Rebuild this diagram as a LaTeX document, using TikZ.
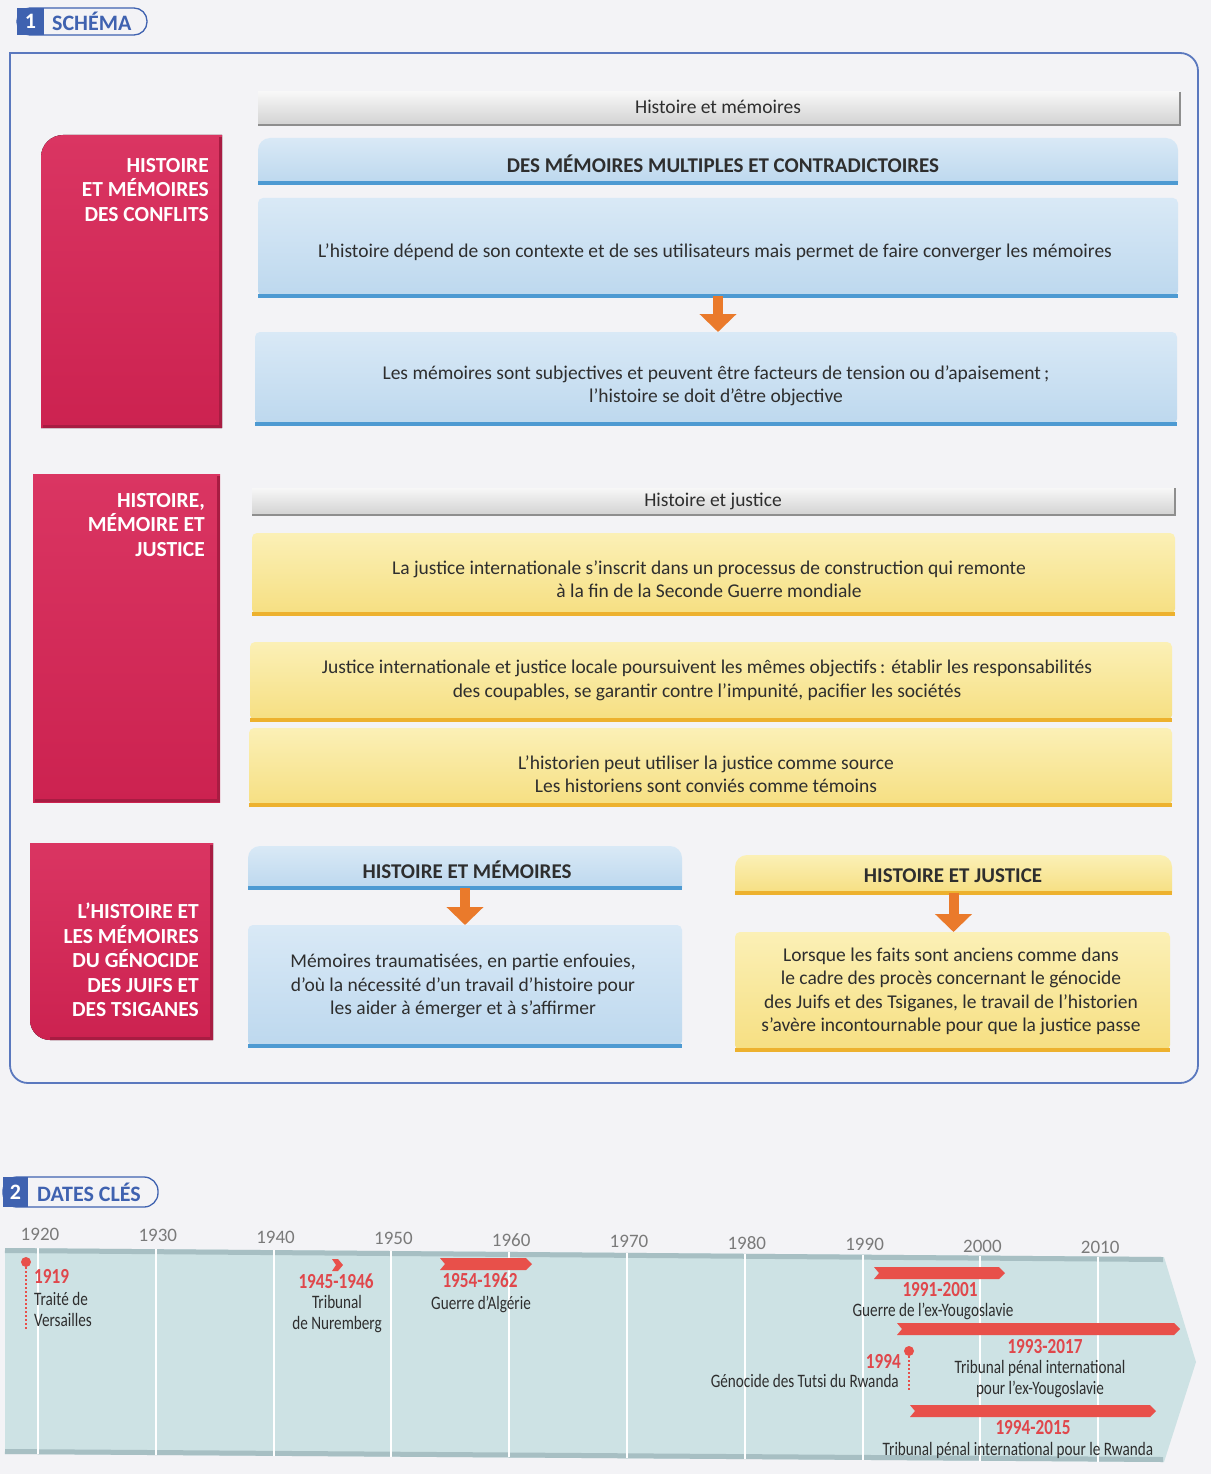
\documentclass[tikz,border=0pt]{standalone}
\usepackage{fontspec}
\setmainfont{Carlito}
\newfontfamily\condf{Carlito}[FakeStretch=0.8]
\usetikzlibrary{shadings,arrows.meta}
\definecolor{bgc}{HTML}{F3F3F6}
\definecolor{framec}{HTML}{5A78BE}
\definecolor{tabc}{HTML}{3F62B0}
\definecolor{redt}{HTML}{DA3562}
\definecolor{redb}{HTML}{CC2250}
\definecolor{redbd}{HTML}{A81C42}
\definecolor{bluet}{HTML}{D9E9F6}
\definecolor{blueb}{HTML}{BDD8EE}
\definecolor{blueedge}{HTML}{4D9AD2}
\definecolor{yelt}{HTML}{FBF0B6}
\definecolor{yelb}{HTML}{F6DF82}
\definecolor{yeledge}{HTML}{EDB12E}
\definecolor{greyt}{HTML}{F7F7F7}
\definecolor{greyb}{HTML}{D2D2D2}
\definecolor{greyedge}{HTML}{8E8E8E}
\definecolor{arrowc}{HTML}{EA7A2B}
\definecolor{txtc}{HTML}{2E2E2E}
\definecolor{redtxt}{HTML}{E0474B}
\definecolor{ribbonc}{HTML}{E8504A}
\definecolor{bandc}{HTML}{CDE2E4}
\definecolor{bandedge}{HTML}{A7BFC3}
\definecolor{yearc}{HTML}{7A7A7A}
\newcommand\hdrshape[3]{\path[#2] (#1.south west) [rounded corners=#3] -- (#1.north west) -- (#1.north east) [sharp corners] -- (#1.south east) -- cycle;}
\newcommand\ribbon[3]{\fill[ribbonc] (#1,#3) -- (#2,#3) -- ({#2+6},{#3+6}) -- (#2,{#3+12}) -- (#1,{#3+12}) -- ({#1+5},{#3+6}) -- cycle;}
\begin{document}
\begin{tikzpicture}[x=1pt,y=-1pt,
  boxbase/.style={inner sep=0pt, outer sep=0pt},
  bluebox/.style={boxbase, rounded corners=5pt, top color=bluet, bottom color=blueb},
  yelbox/.style={boxbase, rounded corners=5pt, top color=yelt, bottom color=yelb},
  greybar/.style={boxbase, top color=greyt, bottom color=greyb},
  txt/.style={font=\fontsize{19.5}{23.5}\selectfont, text=txtc, align=center, inner sep=0pt},
  hdtxt/.style={font=\bfseries\fontsize{21}{23}\selectfont, text=txtc, inner sep=0pt},
  redlabel/.style={font=\bfseries\fontsize{21.5}{24.5}\selectfont, text=white, align=right, anchor=north east, inner sep=0pt},
  orarrow/.style={draw=arrowc, line width=10pt, -{Triangle[width=36pt,length=18pt]}},
  yearlbl/.style={font=\fontsize{19}{19}\selectfont, text=yearc, inner sep=0pt},
  evred/.style={font=\condf\bfseries\fontsize{21.5}{21.5}\selectfont, text=redtxt, inner sep=0pt},
  evtxt/.style={font=\condf\fontsize{19}{21}\selectfont, text=txtc, inner sep=0pt, align=center},
  dot/.style={circle, fill=ribbonc, inner sep=0pt, minimum size=10pt},
  dotline/.style={draw=ribbonc, line width=2pt, dash pattern=on 2pt off 2pt},
  tabtxt/.style={font=\bfseries\fontsize{22}{22}\selectfont, inner sep=0pt}
]
\useasboundingbox (0,0) rectangle (1211,1474);
\fill[bgc] (0,0) rectangle (1211,1474);

% ---------- tab 1
\draw[tabc, line width=1.3pt, rounded corners=13pt] (17,8) rectangle (147,35);
\fill[tabc] (17,8) rectangle (44,35);
\node[tabtxt, text=white] (n1) at (30.5,21.5) {1};
\node[tabtxt, text=tabc, anchor=west] (schema) at (52,21.5) {SCHÉMA};

% ---------- frame (square top-left corner)
\draw[framec, line width=1.8pt] (9.1,53) [rounded corners=18pt] -- (1198,53) -- (1198,1083) -- (10,1083) -- (10,52.1);

% ---------- red boxes
\fill[top color=redt, bottom color=redb] (222,428) -- (41,428) [rounded corners=22pt] -- (41,135) [sharp corners] -- (222,135) -- cycle;
\draw[redbd, line width=3pt] (220.5,137) -- (220.5,426.5) -- (43,426.5);
\node[redlabel] (r1t) at (209,158) {HISTOIRE\\ET MÉMOIRES\\DES CONFLITS};

\fill[top color=redt, bottom color=redb] (33,474) rectangle (220,802);
\draw[redbd, line width=3pt] (218.5,476) -- (218.5,800.5) -- (35,800.5);
\node[redlabel] (r2t) at (205,493) {HISTOIRE,\\MÉMOIRE ET\\JUSTICE};

\fill[top color=redt, bottom color=redb] (30,843) [rounded corners=20pt] -- (30,1040) [sharp corners] -- (213,1040) -- (213,843) -- cycle;
\draw[redbd, line width=3pt] (211.5,845) -- (211.5,1038.5) -- (50,1038.5);
\node[redlabel] (r3t) at (199,903) {L’HISTOIRE ET\\LES MÉMOIRES\\DU GÉNOCIDE\\DES JUIFS ET\\DES TSIGANES};

% ---------- Histoire et mémoires
\node[greybar, minimum width=922pt, minimum height=33pt] (g1) at (719,108.5) {};
\draw[greyedge, line width=2.5pt] (g1.north east) -- (g1.south east) -- (g1.south west);
\node[txt] (g1t) at (718,107) {Histoire et mémoires};

\node[boxbase, minimum width=920pt, minimum height=45pt] (h1) at (718,160.5) {};
\hdrshape{h1}{top color=bluet, bottom color=blueb}{12pt}
\draw[blueedge, line width=4pt] (h1.south west) -- (h1.south east);
\node[hdtxt] (h1t) at (723,164) {DES MÉMOIRES MULTIPLES ET CONTRADICTOIRES};

\node[bluebox, minimum width=920pt, minimum height=98pt] (b1) at (718,247) {};
\draw[blueedge, line width=4pt] (b1.south west) -- (b1.south east);
\node[txt] (b1t) at (715,252) {L’histoire dépend de son contexte et de ses utilisateurs mais permet de faire converger les mémoires};

\node[bluebox, minimum width=922pt, minimum height=92pt] (b2) at (716,378) {};
\draw[blueedge, line width=4pt] (b2.south west) -- (b2.south east);
\node[txt] (b2t) at (716,386) {Les mémoires sont subjectives et peuvent être facteurs de tension ou d’apaisement\,;\\l’histoire se doit d’être objective};

\draw[orarrow] (b1.south) -- (b1.south |- b2.north);

% ---------- Histoire et justice
\node[greybar, minimum width=923pt, minimum height=27pt] (g2) at (713.5,501.5) {};
\draw[greyedge, line width=2.5pt] (g2.north east) -- (g2.south east) -- (g2.south west);
\node[txt] (g2t) at (713,501) {Histoire et justice};

\node[yelbox, minimum width=923pt, minimum height=81pt] (y1) at (713.5,573.5) {};
\draw[yeledge, line width=4pt] (y1.south west) -- (y1.south east);
\node[txt] (y1t) at (709,579) {La justice internationale s’inscrit dans un processus de construction qui remonte\\à la fin de la Seconde Guerre mondiale};

\node[yelbox, minimum width=922pt, minimum height=78pt] (y2) at (711,681) {};
\draw[yeledge, line width=4pt] (y2.south west) -- (y2.south east);
\node[txt] (y2t) at (707,680.5) {Justice internationale et justice locale poursuivent les mêmes objectifs\,: établir les responsabilités\\des coupables, se garantir contre l’impunité, pacifier les sociétés};

\node[yelbox, minimum width=923pt, minimum height=77pt] (y3) at (710.5,766.5) {};
\draw[yeledge, line width=4pt] (y3.south west) -- (y3.south east);
\node[txt] (y3t) at (706,774) {L’historien peut utiliser la justice comme source\\Les historiens sont conviés comme témoins};

% ---------- bottom two columns
\node[boxbase, minimum width=434pt, minimum height=42pt] (h2) at (465,867) {};
\hdrshape{h2}{top color=bluet, bottom color=blueb}{12pt}
\draw[blueedge, line width=4pt] (h2.south west) -- (h2.south east);
\node[hdtxt] (h2t) at (467,870) {HISTOIRE ET MÉMOIRES};

\node[bluebox, minimum width=434pt, minimum height=121pt] (b3) at (465,985.5) {};
\draw[blueedge, line width=4pt] (b3.south west) -- (b3.south east);
\node[txt] (b3t) at (463,986) {Mémoires traumatisées, en partie enfouies,\\d’où la nécessité d’un travail d’histoire pour\\les aider à émerger et à s’affirmer};

\draw[orarrow] (h2.south) -- (h2.south |- b3.north);

\node[boxbase, minimum width=437pt, minimum height=38pt] (h3) at (953.5,874) {};
\hdrshape{h3}{top color=yelt, bottom color=yelb}{12pt}
\draw[yeledge, line width=4pt] (h3.south west) -- (h3.south east);
\node[hdtxt] (h3t) at (953,876) {HISTOIRE ET JUSTICE};

\node[yelbox, minimum width=435pt, minimum height=118pt] (y4) at (952.5,991) {};
\draw[yeledge, line width=4pt] (y4.south west) -- (y4.south east);
\node[txt] (y4t) at (951,991.5) {Lorsque les faits sont anciens comme dans\\le cadre des procès concernant le génocide\\des Juifs et des Tsiganes, le travail de l’historien\\s’avère incontournable pour que la justice passe};

\draw[orarrow] (h3.south) -- (h3.south |- y4.north);

% ---------- tab 2
\draw[tabc, line width=1.3pt, rounded corners=14pt] (3,1177) rectangle (158,1207);
\fill[tabc] (3,1177) rectangle (28,1207);
\node[tabtxt, text=white] (n2) at (15.5,1192) {2};
\node[tabtxt, text=tabc, anchor=west] (dates) at (37,1192) {DATES CLÉS};

% ---------- timeline band
\fill[bandc] (5,1248) -- (1164,1257) -- (1196,1362) -- (1164,1462) -- (5,1454) -- cycle;
\draw[bandedge, line width=5pt] (5,1250.5) -- (1163,1259.5);
\draw[bandedge, line width=5pt] (5,1451.5) -- (1163,1459.5);
\foreach \i in {0,...,9} {
  \pgfmathsetmacro\xx{38+117.8*\i}
  \pgfmathsetmacro\yt{1248+(\xx-5)*0.00777}
  \pgfmathsetmacro\yb{1454+(\xx-5)*0.0069}
  \pgfmathsetmacro\yl{1234+(\xx-38)*0.0127}
  \pgfmathtruncatemacro\yr{1920+10*\i}
  \draw[white, line width=2pt] (\xx,\yt) -- (\xx,\yb);
  \node[yearlbl] (yr\yr) at (\xx+2,\yl) {\yr};
}

% events
\node[dot] (d1919) at (26,1262) {};
\coordinate (d1919e) at (26,1330);
\draw[dotline] (d1919) -- (d1919e);
\node[evred, anchor=base west] (e1919) at (34,1283) {1919};
\node[evtxt, align=left, anchor=north west] (e1919t) at (34,1292) {Traité de\\Versailles};

\fill[ribbonc] (332,1259) -- (338,1259) -- (343,1265) -- (338,1271) -- (332,1271) -- (336,1265) -- cycle;
\node[evred, anchor=base] (e1945) at (336,1288) {1945-1946};
\node[evtxt, anchor=north] (e1945t) at (337,1295) {Tribunal\\de Nuremberg};

\ribbon{440}{526}{1258}
\node[evred, anchor=base] (e1954) at (480,1287) {1954-1962};
\node[evtxt, anchor=base] (e1954t) at (481,1309) {Guerre d’Algérie};

\ribbon{874}{999}{1267}
\node[evred, anchor=base] (e1991) at (940,1296) {1991-2001};
\node[evtxt, anchor=base] (e1991t) at (933,1316) {Guerre de l’ex-Yougoslavie};

\ribbon{897}{1174}{1323}
\node[evred, anchor=base] (e1993) at (1045,1353) {1993-2017};
\node[evtxt, anchor=north] (e1993t) at (1040,1360) {Tribunal pénal international\\pour l’ex-Yougoslavie};

\node[dot] (d1994) at (909,1351) {};
\coordinate (d1994e) at (909,1392);
\draw[dotline] (d1994) -- (d1994e);
\node[evred, anchor=base east] (e1994) at (901,1368) {1994};
\node[evtxt, anchor=base east] (e1994t) at (899,1387) {Génocide des Tutsi du Rwanda};

\ribbon{910}{1150}{1405}
\node[evred, anchor=base] (e1994b) at (1033,1434) {1994-2015};
\node[evtxt, anchor=base] (e1994bt) at (1018,1455) {Tribunal pénal international pour le Rwanda};
\end{tikzpicture}
\end{document}
